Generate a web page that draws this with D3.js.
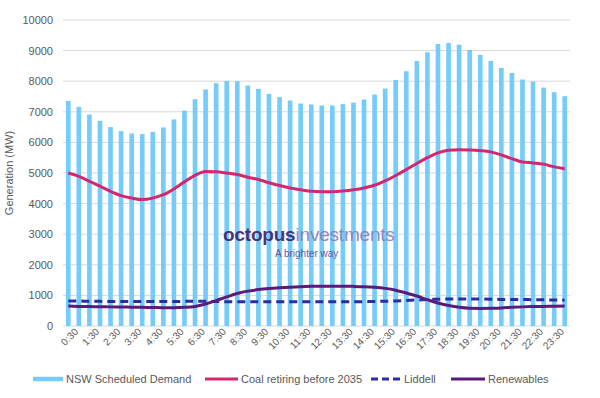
<!DOCTYPE html>
<html>
<head>
<meta charset="utf-8">
<script src="https://cdn.jsdelivr.net/npm/d3@7"></script>
<style>
  body { margin: 0; background: #fff; }
  svg text { font-family: "Liberation Sans", Arial, sans-serif; fill: #595959; }
</style>
</head>
<body>
<svg id="chart" width="600" height="398"></svg>
<script>
/*  Data  */
const times = [
  "0:30","1:00","1:30","2:00","2:30","3:00","3:30","4:00","4:30","5:00","5:30","6:00",
  "6:30","7:00","7:30","8:00","8:30","9:00","9:30","10:00","10:30","11:00","11:30","12:00",
  "12:30","13:00","13:30","14:00","14:30","15:00","15:30","16:00","16:30","17:00","17:30","18:00",
  "18:30","19:00","19:30","20:00","20:30","21:00","21:30","22:00","22:30","23:00","23:30","0:00"
];
const demand = [
  7355,7160,6910,6705,6500,6370,6290,6270,6345,6490,6750,7040,
  7410,7730,7935,8010,8000,7860,7750,7585,7480,7370,7270,7240,
  7205,7205,7250,7300,7400,7565,7760,8040,8325,8660,8945,9215,
  9250,9195,9020,8860,8660,8435,8270,8055,7990,7790,7640,7510
];
const coal = [
  5000,4890,4730,4570,4400,4260,4180,4130,4180,4290,4480,4710,
  4920,5050,5040,5000,4950,4860,4790,4680,4590,4510,4450,4400,
  4390,4390,4410,4450,4510,4600,4740,4920,5110,5310,5500,5660,
  5740,5760,5750,5730,5690,5590,5470,5360,5330,5290,5200,5140
];
const liddell = [
  820,815,810,805,800,800,800,800,800,800,800,805,
  810,810,800,795,790,790,790,790,790,790,790,790,
  790,790,790,790,795,800,810,820,835,850,865,875,
  880,880,880,880,875,870,870,865,860,855,850,845
];
const renewables = [
  650,640,635,630,625,620,615,610,605,600,600,610,
  640,720,830,950,1060,1140,1190,1225,1250,1270,1285,1295,
  1300,1300,1300,1295,1285,1265,1230,1170,1080,980,860,750,
  670,610,580,575,580,590,610,625,635,640,645,650
];
const yTicks = [0,1000,2000,3000,4000,5000,6000,7000,8000,9000,10000];

/*  Dimensions  */
const margin = {top: 20, right: 30, bottom: 72, left: 63},
      width  = 600 - margin.left - margin.right,
      height = 398 - margin.top  - margin.bottom;

const svg = d3.select("#chart")
  .append("g")
  .attr("transform", `translate(${margin.left},${margin.top})`);

const xScale = d3.scaleBand().domain(times).range([0, width]).paddingInner(0.56).paddingOuter(0.28);
const yScale = d3.scaleLinear().domain([0, 10000]).range([height, 0]);
const cx = t => xScale(t) + xScale.bandwidth() / 2;

/* grid */
svg.append("g")
  .selectAll("line")
  .data(yTicks)
  .join("line")
  .attr("x1", 0).attr("x2", width)
  .attr("y1", d => yScale(d)).attr("y2", d => yScale(d))
  .attr("stroke", "#d9d9d9").attr("stroke-width", 1);

/* y axis */
const yAxis = svg.append("g")
  .call(d3.axisLeft(yScale).tickValues(yTicks).tickFormat(d3.format("d")).tickSize(0).tickPadding(10));
yAxis.select(".domain").remove();
yAxis.selectAll("text").style("font-size", "11px");

/* x axis */
const xAxis = svg.append("g")
  .attr("transform", `translate(0,${height})`)
  .call(d3.axisBottom(xScale).tickValues(times.filter((d, i) => i % 2 === 0)).tickSize(0).tickPadding(6));
xAxis.select(".domain").remove();
xAxis.selectAll("text")
  .style("font-size", "10px")
  .attr("text-anchor", "end")
  .attr("dx", "0.3em")
  .attr("dy", "0.6em")
  .attr("transform", "rotate(-45)");

/* bars */
svg.selectAll(".bar")
  .data(demand)
  .join("rect")
  .attr("class", "bar")
  .attr("x", (d, i) => xScale(times[i]))
  .attr("width", xScale.bandwidth())
  .attr("y", d => yScale(d))
  .attr("height", d => height - yScale(d))
  .attr("fill", "#75ccfa");

/* watermark */
const wm = svg.append("g").attr("opacity", 0.9);
const wt = wm.append("text")
  .attr("x", 160).attr("y", 221)
  .style("font-size", "19px").style("letter-spacing", "-0.2px");
wt.append("tspan").text("octopus").style("fill", "#3c1f6e").style("font-weight", "bold");
wt.append("tspan").text("investments").style("fill", "#8a7db5");
wm.append("text")
  .attr("x", 212).attr("y", 237)
  .style("font-size", "10px").style("fill", "#5b4a9c")
  .text("A brighter way");

/* lines */
const lineGen = d3.line()
  .x((d, i) => cx(times[i]))
  .y(d => yScale(d))
  .curve(d3.curveMonotoneX);

svg.append("path").datum(coal)
  .attr("fill", "none").attr("stroke", "#d3286f").attr("stroke-width", 3)
  .attr("d", lineGen);

svg.append("path").datum(liddell)
  .attr("fill", "none").attr("stroke", "#2b2ea0").attr("stroke-width", 3)
  .attr("stroke-dasharray", "8 5")
  .attr("d", lineGen);

svg.append("path").datum(renewables)
  .attr("fill", "none").attr("stroke", "#5c1a7c").attr("stroke-width", 3)
  .attr("d", lineGen);

/* y label */
svg.append("text")
  .attr("transform", "rotate(-90)")
  .attr("x", -height / 2)
  .attr("y", -50)
  .attr("text-anchor", "middle")
  .style("font-size", "11px")
  .text("Generation (MW)");

/* legend */
const legendItems = [
  {name: "NSW Scheduled Demand", color: "#75ccfa", x: 33, w: 30, sw: 4.5, dash: null},
  {name: "Coal retiring before 2035", color: "#d3286f", x: 205, w: 33, sw: 3, dash: null},
  {name: "Liddell", color: "#2b2ea0", x: 371, w: 30, sw: 3, dash: "7 4"},
  {name: "Renewables", color: "#5c1a7c", x: 451, w: 34, sw: 3, dash: null}
];
const legend = d3.select("#chart").append("g");
const li = legend.selectAll("g").data(legendItems).join("g")
  .attr("transform", d => `translate(${d.x},379)`);
li.append("line")
  .attr("x1", 0).attr("x2", d => d.w)
  .attr("stroke", d => d.color).attr("stroke-width", d => d.sw)
  .attr("stroke-dasharray", d => d.dash);
li.append("text")
  .attr("x", d => d.w + 3).attr("y", 4)
  .style("font-size", "11px")
  .text(d => d.name);
</script>
</body>
</html>
